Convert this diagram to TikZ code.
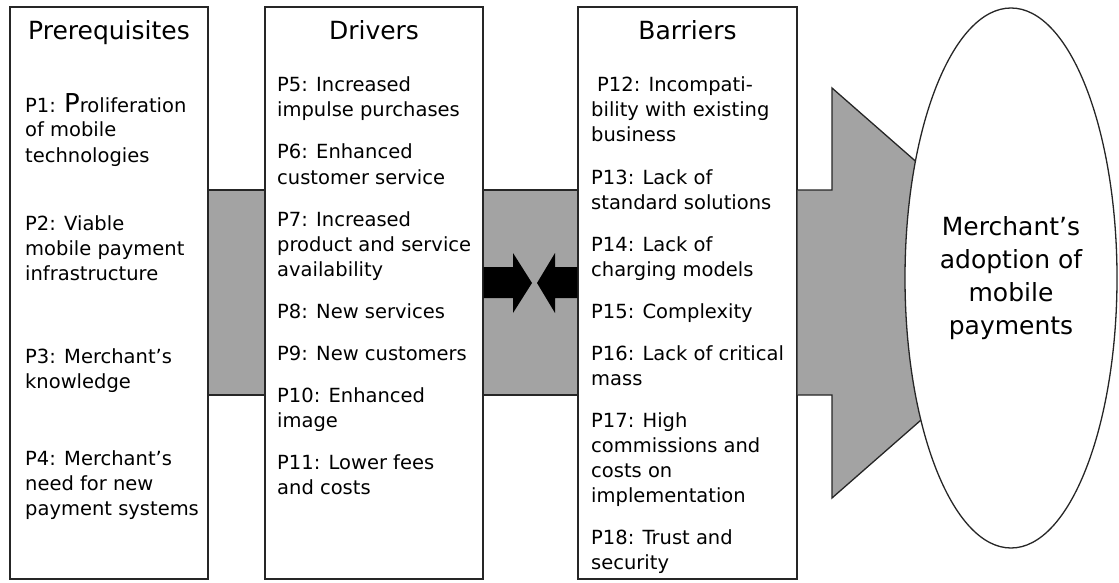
\documentclass[tikz,border=0pt]{standalone}
\usepackage{fontspec}
\setmainfont{DejaVu Sans}
\usepackage{tikz}
\usetikzlibrary{shapes.geometric, positioning, calc}
\usepackage{xcolor}
\definecolor{bandGray}{HTML}{A3A3A3}
\definecolor{lineDark}{HTML}{262626}

\begin{document}
\begin{tikzpicture}[%
  x=1pt, y=-1pt,
  colbox/.style={%
    rectangle,
    draw=lineDark,
    fill=white,
    line width=1.3pt,
    inner sep=0pt
  },
  title/.style={%
    font=\fontsize{25}{30}\selectfont,
    anchor=base,
    inner sep=0pt
  },
  item/.style={%
    font=\fontsize{19.5}{25}\selectfont,
    anchor=base west,
    align=left,
    inner sep=0pt
  },
  band/.style={draw=lineDark,fill=bandGray,line width=1.3pt},
  blockarrow/.style={fill=black,draw=none}
]
  \useasboundingbox (0,0) rectangle (1119,583);

  % Band levels
  \coordinate (bandtop) at (0,190);
  \coordinate (bandbot) at (0,395);

  % Columns
  \node[colbox,minimum width=198pt,minimum height=572pt] (pre) at (109,293) {};
  \node[colbox,minimum width=218pt,minimum height=572pt] (drv) at (374,293) {};
  \node[colbox,minimum width=219pt,minimum height=572pt] (bar) at (687.5,293) {};

  % Grey links between the columns
  \draw[band] (pre.east |- bandtop) rectangle (drv.west |- bandbot);
  \draw[band] (drv.east |- bandtop) rectangle (bar.west |- bandbot);
  \draw[band] (bar.east |- bandtop) -- (832,190) -- (832,88) -- (1066,293)
    -- (832,498) -- (832,395) -- (bar.east |- bandbot);

  % Black arrows facing each other
  \fill[blockarrow] (drv.east |- 0,267) -- (513,267) -- (513,253) -- (532,283)
    -- (513,313) -- (513,298) -- (drv.east |- 0,298) -- cycle;
  \fill[blockarrow] (bar.west |- 0,267) -- (555,267) -- (555,253) -- (537,283)
    -- (555,313) -- (555,298) -- (bar.west |- 0,298) -- cycle;

  % Outcome
  \node[ellipse,draw=lineDark,fill=white,line width=1.3pt,minimum width=212pt,
    minimum height=540pt,inner sep=0pt,align=center,
    font=\fontsize{25}{33}\selectfont] (adopt) at (1011,278)
    {Merchant's\\adoption of\\mobile\\payments};

  % Titles
  \node[title] (preT) at (pre.north |- 0,40) {Prerequisites};
  \node[title] (drvT) at (drv.north |- 0,40) {Drivers};
  \node[title] (barT) at (bar.north |- 0,40) {Barriers};

  % Prerequisites (placed at the baseline of the last line)
  \node[item] (P1) at (25,162) {P1: {\fontsize{26}{25}\selectfont P}roliferation\\of mobile\\technologies};
  \node[item] (P2) at (25,280) {P2: Viable\\mobile payment\\infrastructure};
  \node[item] (P3) at (25,388) {P3: Merchant's\\knowledge};
  \node[item] (P4) at (25,515) {P4: Merchant's\\need for new\\payment systems};

  % Drivers
  \node[item] (P5) at (277,117) {P5: Increased\\impulse purchases};
  \node[item] (P6) at (277,184) {P6: Enhanced\\customer service};
  \node[item] (P7) at (277,276) {P7: Increased\\product and service\\availability};
  \node[item] (P8) at (277,318) {P8: New services};
  \node[item] (P9) at (277,360) {P9: New customers};
  \node[item] (P10) at (277,427) {P10: Enhanced\\image};
  \node[item] (P11) at (277,494) {P11: Lower fees\\and costs};

  % Barriers
  \node[item] (P12) at (591,142) {\hspace{6pt}P12: Incompati-\\bility with existing\\business};
  \node[item] (P13) at (591,209) {P13: Lack of\\standard solutions};
  \node[item] (P14) at (591,276) {P14: Lack of\\charging models};
  \node[item] (P15) at (591,318) {P15: Complexity};
  \node[item] (P16) at (591,385) {P16: Lack of critical\\mass};
  \node[item] (P17) at (591,502) {P17: High\\commissions and\\costs on\\implementation};
  \node[item] (P18) at (591,569) {P18: Trust and\\security};

\end{tikzpicture}
\end{document}
